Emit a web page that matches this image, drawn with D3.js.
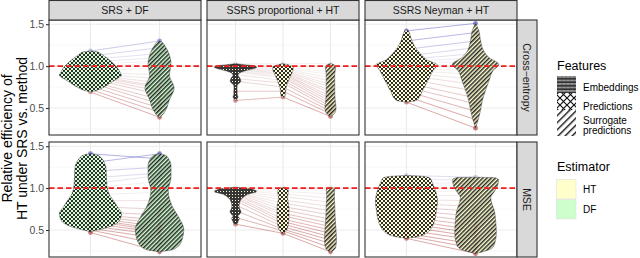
<!DOCTYPE html>
<html><head><meta charset="utf-8">
<script src="https://cdn.jsdelivr.net/npm/d3@7"></script>
<style>body{margin:0;background:#fff}svg{display:block;font-family:"Liberation Sans",Arial,Helvetica,sans-serif}</style>
</head><body><svg id="c" width="640" height="258"></svg>
<script>
// ---------------- data ----------------
const designs = ["SRS + DF", "SSRS proportional + HT", "SSRS Neyman + HT"];
const metrics = ["Cross−entropy", "MSE"];
const features = ["Embeddings", "Predictions", "Surrogate predictions"];
const estimators = ["HT", "DF"];
const designEstimator = ["DF", "HT", "HT"];
const designFeatures = [
  ["Predictions", "Surrogate predictions"],
  ["Embeddings", "Predictions", "Surrogate predictions"],
  ["Predictions", "Surrogate predictions"]
];
const yTicks = [0.5, 1.0, 1.5];
const yMinorTicks = [0.25, 0.75, 1.25];
const refLine = 1.0;

// paired relative efficiencies (one entry per dataset)
const ceSrsPred = [1.18,1.12,1.08,1.05,1.02,0.99,0.96,0.94,0.92,0.91,0.90,0.89,0.88,0.87,0.85,0.82,0.80,0.76,0.72,0.69];
const ceSrsSurr = [1.30,1.22,1.15,1.10,1.06,1.04,1.02,0.98,0.90,0.85,0.80,0.76,0.74,0.70,0.66,0.60,0.55,0.50,0.45,0.39];
const cePropEmb = [1.03,1.01,1.00,0.99,0.99,0.98,0.98,0.97,0.97,0.97,0.96,0.96,0.95,0.94,0.93,0.90,0.85,0.82,0.70,0.59];
const cePropPred = [1.03,1.02,1.00,0.99,0.98,0.97,0.96,0.95,0.94,0.93,0.92,0.91,0.90,0.88,0.86,0.83,0.80,0.75,0.70,0.63];
const cePropSurr = [1.03,1.00,0.97,0.93,0.90,0.86,0.82,0.78,0.75,0.71,0.68,0.64,0.61,0.58,0.55,0.52,0.49,0.46,0.43,0.40];
const ceNeyPred = [1.42,1.30,1.20,1.12,1.08,1.05,1.03,1.01,1.00,0.99,0.97,0.95,0.92,0.89,0.85,0.80,0.75,0.70,0.64,0.57];
const ceNeySurr = [1.51,1.40,1.30,1.22,1.15,1.10,1.06,1.03,1.01,0.98,0.95,0.90,0.84,0.78,0.70,0.62,0.55,0.46,0.36,0.26];
const mseSrsPred = [1.41,1.30,1.20,1.12,1.05,1.00,0.92,0.85,0.78,0.72,0.69,0.67,0.65,0.63,0.61,0.58,0.55,0.52,0.50,0.47];
const mseSrsSurr = [1.35,1.41,1.25,1.18,1.15,1.08,0.95,0.85,0.75,0.68,0.62,0.58,0.54,0.51,0.49,0.47,0.44,0.40,0.33,0.24];
const msePropEmb = [1.01,1.00,0.99,0.98,0.97,0.97,0.96,0.96,0.95,0.95,0.94,0.93,0.92,0.90,0.88,0.85,0.80,0.73,0.65,0.57];
const msePropPred = [1.01,1.00,0.99,0.98,0.96,0.93,0.90,0.86,0.82,0.78,0.74,0.70,0.67,0.63,0.60,0.57,0.54,0.51,0.49,0.46];
const msePropSurr = [1.01,1.00,0.99,0.97,0.93,0.88,0.83,0.78,0.73,0.68,0.63,0.58,0.54,0.50,0.46,0.42,0.38,0.34,0.29,0.24];
const mseNeyPred = [1.15,1.10,1.06,1.02,0.98,0.95,0.90,0.86,0.82,0.78,0.74,0.70,0.66,0.62,0.58,0.54,0.50,0.46,0.43,0.40];
const mseNeySurr = [1.13,1.10,1.06,1.03,1.00,0.97,0.92,0.85,0.78,0.72,0.66,0.60,0.55,0.50,0.46,0.42,0.38,0.33,0.28,0.22];

// violin density profiles: [relative efficiency, relative density]
const ceSrsPredDens = [[1.18,0],[1.17,0.22],[1.13,0.4],[1.07,0.62],[1.0,0.82],[0.93,0.95],[0.89,1.0],[0.86,0.9],[0.83,0.77],[0.77,0.52],[0.71,0.19],[0.69,0]];
const ceSrsSurrDens = [[1.30,0],[1.28,0.1],[1.25,0.16],[1.13,0.32],[1.03,0.37],[0.89,0.32],[0.74,0.47],[0.60,0.32],[0.47,0.19],[0.42,0.1],[0.39,0]];
const cePropEmbDens = [[1.03,0],[1.02,0.3],[1.01,0.7],[0.99,1.0],[0.97,0.85],[0.95,0.55],[0.93,0.3],[0.91,0.15],[0.89,0.12],[0.86,0.2],[0.82,0.25],[0.79,0.15],[0.77,0.08],[0.72,0.07],[0.66,0.08],[0.63,0.12],[0.61,0.06],[0.59,0]];
const cePropPredDens = [[1.03,0],[1.01,0.3],[0.99,0.48],[0.95,0.47],[0.93,0.44],[0.86,0.31],[0.78,0.19],[0.74,0.14],[0.65,0.1],[0.63,0]];
const cePropSurrDens = [[1.03,0],[1.01,0.2],[0.98,0.24],[0.9,0.2],[0.8,0.2],[0.7,0.2],[0.6,0.22],[0.5,0.26],[0.45,0.22],[0.42,0.12],[0.40,0]];
const ceNeyPredDens = [[1.43,0],[1.41,0.08],[1.39,0.1],[1.28,0.2],[1.16,0.42],[1.07,0.68],[1.01,1.0],[0.97,0.9],[0.87,0.75],[0.71,0.52],[0.59,0.32],[0.57,0]];
const ceNeySurrDens = [[1.51,0],[1.43,0.1],[1.31,0.16],[1.19,0.25],[1.10,0.44],[1.02,0.75],[0.95,0.57],[0.83,0.44],[0.71,0.32],[0.59,0.22],[0.47,0.16],[0.38,0.1],[0.26,0]];
const mseSrsPredDens = [[1.41,0],[1.40,0.18],[1.37,0.32],[1.24,0.5],[1.03,0.53],[0.93,0.6],[0.85,0.74],[0.77,0.88],[0.70,1.0],[0.64,0.97],[0.58,0.85],[0.52,0.45],[0.48,0]];
const mseSrsSurrDens = [[1.41,0],[1.39,0.2],[1.35,0.29],[1.27,0.37],[1.13,0.37],[0.97,0.28],[0.79,0.4],[0.65,0.62],[0.51,0.78],[0.37,0.71],[0.29,0.55],[0.26,0.35],[0.24,0]];
const msePropEmbDens = [[1.01,0],[1.00,0.45],[0.98,0.85],[0.96,1.0],[0.93,0.63],[0.88,0.31],[0.83,0.2],[0.79,0.17],[0.75,0.2],[0.72,0.26],[0.69,0.2],[0.66,0.12],[0.64,0.18],[0.61,0.14],[0.58,0.08],[0.57,0]];
const msePropPredDens = [[1.01,0],[1.0,0.15],[0.97,0.25],[0.93,0.24],[0.89,0.21],[0.82,0.25],[0.76,0.28],[0.66,0.28],[0.59,0.26],[0.51,0.19],[0.48,0.1],[0.46,0]];
const msePropSurrDens = [[1.01,0],[0.99,0.2],[0.9,0.18],[0.8,0.2],[0.65,0.22],[0.5,0.26],[0.38,0.28],[0.30,0.25],[0.26,0.15],[0.24,0]];
const mseNeyPredDens = [[1.15,0],[1.14,0.5],[1.12,0.75],[1.05,0.85],[0.95,0.95],[0.83,1.0],[0.75,0.97],[0.67,0.94],[0.55,0.84],[0.46,0.64],[0.42,0.35],[0.40,0]];
const mseNeySurrDens = [[1.13,0],[1.125,0.6],[1.10,0.74],[1.03,0.71],[0.95,0.59],[0.89,0.49],[0.82,0.52],[0.75,0.59],[0.6,0.65],[0.47,0.67],[0.31,0.59],[0.26,0.4],[0.22,0]];

const panelValues = [
  [[ceSrsPred, ceSrsSurr], [cePropEmb, cePropPred, cePropSurr], [ceNeyPred, ceNeySurr]],
  [[mseSrsPred, mseSrsSurr], [msePropEmb, msePropPred, msePropSurr], [mseNeyPred, mseNeySurr]]
];
const panelDens = [
  [[ceSrsPredDens, ceSrsSurrDens], [cePropEmbDens, cePropPredDens, cePropSurrDens], [ceNeyPredDens, ceNeySurrDens]],
  [[mseSrsPredDens, mseSrsSurrDens], [msePropEmbDens, msePropPredDens, msePropSurrDens], [mseNeyPredDens, mseNeySurrDens]]
];

// ---------------- styles / layout ----------------
const estFill = {HT: "#FFFFCC", DF: "#CCFFCC"};
const panelX = [49, 207, 365], panelW = 152;
const panelY = [20, 142], panelH = 115;
const stripH = 20, rStripW = 20;
const svg = d3.select("#c");
const defs = svg.append("defs");

function featPattern(id, feat, bg, legend) {
  if (feat === "Surrogate predictions") {
    const s = legend ? 5 : 3, lw = legend ? 1.4 : 1.5;
    const p = defs.append("pattern").attr("id", id).attr("patternUnits", "userSpaceOnUse")
      .attr("width", s).attr("height", s).attr("patternTransform", "rotate(45)");
    p.append("rect").attr("width", s).attr("height", s).attr("fill", bg);
    p.append("rect").attr("width", lw).attr("height", s).attr("fill", "#111");
  } else if (feat === "Predictions") {
    if (legend) {
      const s = 7;
      const p = defs.append("pattern").attr("id", id).attr("patternUnits", "userSpaceOnUse").attr("width", s).attr("height", s);
      p.append("rect").attr("width", s).attr("height", s).attr("fill", bg);
      p.append("path").attr("d", `M0,0L${s},${s}M${s},0L0,${s}`).attr("stroke", "#111").attr("stroke-width", 1.2);
    } else {
      const p = defs.append("pattern").attr("id", id).attr("patternUnits", "userSpaceOnUse").attr("width", 4).attr("height", 4);
      p.append("rect").attr("width", 4).attr("height", 4).attr("fill", bg);
      p.append("rect").attr("width", 2).attr("height", 2).attr("fill", "#1a1a1a");
      p.append("rect").attr("x", 2).attr("y", 2).attr("width", 2).attr("height", 2).attr("fill", "#1a1a1a");
    }
  } else {
    if (legend) {
      const p = defs.append("pattern").attr("id", id).attr("patternUnits", "userSpaceOnUse").attr("width", 4).attr("height", 3.5);
      p.append("rect").attr("width", 4).attr("height", 3.5).attr("fill", bg);
      p.append("path").attr("d", "M0,3L1,0.5L2,3L3,0.5L4,3").attr("fill", "none").attr("stroke", "#111").attr("stroke-width", 1);
    } else {
      const p = defs.append("pattern").attr("id", id).attr("patternUnits", "userSpaceOnUse").attr("width", 3).attr("height", 3);
      p.append("rect").attr("width", 3).attr("height", 3).attr("fill", "#222");
      p.append("rect").attr("x", 1).attr("y", 1).attr("width", 1).attr("height", 1).attr("fill", bg);
    }
  }
}
const patId = (f, e) => "p_" + features.indexOf(f) + "_" + e;
features.forEach(f => estimators.forEach(e => featPattern(patId(f, e), f, estFill[e], false)));
features.forEach(f => featPattern("leg_" + features.indexOf(f), f, "#FFFFFF", true));

const y = d3.scaleLinear().domain([0.178, 1.55]).range([panelH, 0]);
const lineColor = d3.scaleLinear().domain([0.5, 1, 1.4]).range(["#A8302C", "#EEEEEE", "#3B3BB8"]).clamp(true);

metrics.forEach((m, ri) => {
  designs.forEach((d, ci) => {
    const g = svg.append("g").attr("transform", `translate(${panelX[ci]},${panelY[ri]})`);
    const feats = designFeatures[ci];
    const x = d3.scalePoint().domain(feats).range([0, panelW]).padding(0.6);
    const half = x.step() * 0.45;
    const w = d3.scaleLinear().domain([0, 1]).range([0, half]);
    g.append("rect").attr("width", panelW).attr("height", panelH).attr("fill", "#fff");
    // grid
    g.selectAll(".mn").data(yMinorTicks).join("line").attr("x1", 0).attr("x2", panelW)
      .attr("y1", v => y(v)).attr("y2", v => y(v)).attr("stroke", "#F2F2F2").attr("stroke-width", 0.6);
    g.selectAll(".mj").data(yTicks).join("line").attr("x1", 0).attr("x2", panelW)
      .attr("y1", v => y(v)).attr("y2", v => y(v)).attr("stroke", "#EBEBEB").attr("stroke-width", 1.1);
    g.selectAll(".vx").data(feats).join("line").attr("x1", f => x(f)).attr("x2", f => x(f))
      .attr("y1", 0).attr("y2", panelH).attr("stroke", "#EBEBEB").attr("stroke-width", 1.1);
    const vals = panelValues[ri][ci];
    const n = vals[0].length;
    // connecting lines
    for (let k = 0; k < feats.length - 1; k++) {
      for (let i = 0; i < n; i++) {
        const a = vals[k][i], b = vals[k + 1][i];
        g.append("line").attr("x1", x(feats[k])).attr("x2", x(feats[k + 1]))
          .attr("y1", y(a)).attr("y2", y(b))
          .attr("stroke", lineColor((a + b) / 2)).attr("stroke-opacity", 0.55).attr("stroke-width", 0.75);
      }
    }
    // points
    feats.forEach((f, k) => {
      g.selectAll(null).data(vals[k]).join("circle").attr("cx", x(f)).attr("cy", v => y(v)).attr("r", 2.4)
        .attr("fill", v => lineColor(v)).attr("fill-opacity", 0.6);
    });
    // violins
    feats.forEach((f, k) => {
      const dens = panelDens[ri][ci][k].slice().sort((p, q) => q[0] - p[0]);
      const area = d3.area().curve(d3.curveMonotoneY)
        .y(p => y(p[0])).x0(p => x(f) - w(p[1])).x1(p => x(f) + w(p[1]));
      g.append("path").attr("d", area(dens)).attr("fill", `url(#${patId(f, designEstimator[ci])})`)
        .attr("fill-opacity", 0.9).attr("stroke", "#333").attr("stroke-width", 0.4);
    });
    // reference line
    g.append("line").attr("x1", 0).attr("x2", panelW).attr("y1", y(refLine)).attr("y2", y(refLine))
      .attr("stroke", "#F21D1D").attr("stroke-width", 1.6).attr("stroke-dasharray", "5.5,3");
    g.append("rect").attr("width", panelW).attr("height", panelH).attr("fill", "none")
      .attr("stroke", "#333").attr("stroke-width", 1.1);
    // y axis on first column
    if (ci === 0) {
      const ax = g.append("g").call(d3.axisLeft(y).tickValues(yTicks).tickFormat(d3.format(".1f")).tickSize(3).tickPadding(2));
      ax.select(".domain").remove();
      ax.selectAll("line").attr("stroke", "#333").attr("stroke-width", 1.1);
      ax.selectAll("text").attr("fill", "#4D4D4D").attr("font-size", 10.5).attr("font-family", "Liberation Sans, Arial, sans-serif");
    }
  });
  // right strip
  const sg = svg.append("g").attr("transform", `translate(${panelX[2] + panelW},${panelY[ri]})`);
  sg.append("rect").attr("width", rStripW).attr("height", panelH).attr("fill", "#D9D9D9").attr("stroke", "#333").attr("stroke-width", 1.1);
  sg.append("text").attr("transform", `translate(${rStripW / 2},${panelH / 2}) rotate(90)`)
    .attr("text-anchor", "middle").attr("dy", "0.35em").attr("font-size", 10.5).attr("fill", "#1A1A1A").text(m);
});
// top strips
designs.forEach((d, ci) => {
  const sg = svg.append("g").attr("transform", `translate(${panelX[ci]},0)`);
  sg.append("rect").attr("y", 0.5).attr("width", panelW).attr("height", stripH - 0.5).attr("fill", "#D9D9D9").attr("stroke", "#333").attr("stroke-width", 1.1);
  sg.append("text").attr("x", panelW / 2).attr("y", stripH / 2).attr("dy", "0.35em").attr("text-anchor", "middle")
    .attr("font-size", 10.5).attr("fill", "#1A1A1A").text(d);
});
// y title
const ytitle = svg.append("text").attr("transform", `translate(0,${(panelY[0] + panelY[1] + panelH) / 2}) rotate(-90)`)
  .attr("text-anchor", "middle").attr("font-size", 14).attr("fill", "#000");
ytitle.append("tspan").attr("x", 0).attr("y", 11.5).text("Relative efficiency of");
ytitle.append("tspan").attr("x", 0).attr("y", 26.5).text("HT under SRS vs. method");

// legends
const lg = svg.append("g").attr("font-size", 10);
lg.append("text").attr("x", 557).attr("y", 69.5).attr("font-size", 12.5).text("Features");
const keyY = [76, 93, 110], keyH = [17, 17, 26];
features.forEach((f, i) => {
  lg.append("rect").attr("x", 557).attr("y", keyY[i]).attr("width", 19).attr("height", keyH[i]).attr("fill", `url(#leg_${i})`);
});
lg.append("text").attr("x", 583).attr("y", 91).text("Embeddings");
lg.append("text").attr("x", 583).attr("y", 110).text("Predictions");
lg.append("text").attr("x", 583).attr("y", 123.5).text("Surrogate");
lg.append("text").attr("x", 583).attr("y", 133.5).text("predictions");
lg.append("text").attr("x", 557).attr("y", 171).attr("font-size", 12.5).text("Estimator");
estimators.forEach((e, i) => {
  lg.append("rect").attr("x", 556.5).attr("y", 179.5 + i * 20).attr("width", 19.5).attr("height", 19.5)
    .attr("fill", estFill[e]).attr("stroke", "#E0E0E0").attr("stroke-width", 0.6);
  lg.append("text").attr("x", 583).attr("y", 193 + i * 20).text(e);
});
</script></body></html>
